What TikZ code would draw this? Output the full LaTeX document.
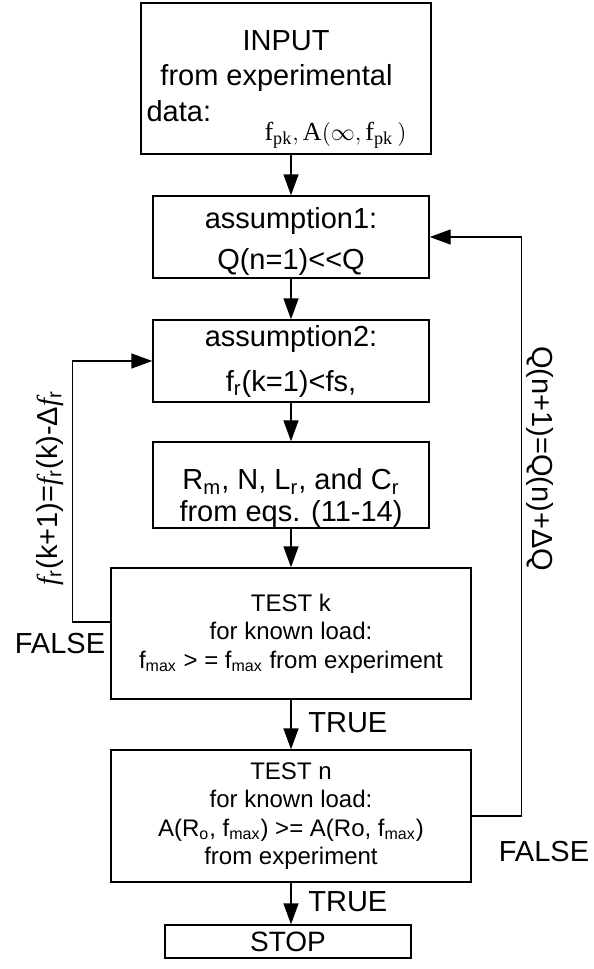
\documentclass[tikz,border=0pt]{standalone}
\usepackage{fontspec}
\setmainfont{Liberation Sans}
\newfontfamily\tms{Liberation Serif}
\setmathrm{Liberation Serif}
\usetikzlibrary{arrows.meta}
\def\ix#1{\textsubscript{#1}}
\def\fr{{\tms\itshape f}\ix{r}}

\begin{document}
\begin{tikzpicture}[x=0.5pt,y=-0.5pt]

    \tikzset{box/.style={draw, line width=0.7pt, inner sep=0pt, align=center,
        minimum width=138pt, minimum height=41pt,
        font=\fontsize{14.5}{17.75}\selectfont},
      test/.style={box, minimum width=180pt, font=\fontsize{12}{14.2}\selectfont},
      lbl/.style={inner sep=0pt, font=\fontsize{14.5}{17.75}\selectfont},
      >={Triangle[length=10.5pt,width=7.5pt]}}
    \tikzstyle{flow}=[->, line width=0.7pt]

    \useasboundingbox (0,0) rectangle (594,969);

    % main column
    \node (input) [box, minimum width=145pt, minimum height=75.5pt] at (286,78.5)
      {\rule{0pt}{21pt}INPUT\\ from experimental\kern9.5pt\\
       data:\hspace{26.75pt}\raisebox{-9.5pt}{\fontsize{13}{13}\selectfont
       $\mathrm{f}_{\mathrm{pk}}\mathrm{,}\,\mathrm{A}\bigl(\infty\mathrm{,}\,\mathrm{f}_{\mathrm{pk}}\,\bigr)$}\kern9.5pt};
    \node (assump1) [box, font=\fontsize{14.5}{20.5}\selectfont] at (291,237)
      {\rule{0pt}{14.5pt}assumption1:\\ Q(n=1)<{}<Q};
    \node (assump2) [box, font=\fontsize{14.5}{22.5}\selectfont] at (291,361)
      {assumption2:\\ f\ix{r}(k=1)<fs,};
    \node (calc) [box, font=\fontsize{14.5}{16}\selectfont] at (291,485)
      {\rule{0pt}{24pt}R\ix{m}, N, L\ix{r}, and C\ix{r}\\ from eqs. (11-14)};
    \node (testk) [test, minimum height=65.5pt] at (291,633.5)
      {TEST k\\ for known load:\\ f\ix{max} > = f\ix{max} from experiment};
    \node (testn) [test, minimum height=66pt] at (291,816)
      {TEST n\\ for known load:\\ A(R\ix{o}, f\ix{max}) >= A(Ro, f\ix{max})\\ from experiment};
    \node (stop) [box, minimum width=123pt, minimum height=16.5pt, text depth=0pt,
      font=\fontsize{14}{16}\selectfont] at (288,941.5) {STOP};

    \draw[flow] (input.south -| assump1.north) -- (assump1.north);
    \draw[flow] (assump1) -- (assump2);
    \draw[flow] (assump2) -- (calc);
    \draw[flow] (calc) -- (testk);
    \draw[flow] (testk) -- (testn);
    \draw[flow] (testn.south) -- (testn.south |- stop.north);

    % feedback loops
    \draw[flow] ([yshift=5.75pt]testk.west) -- ++(-38,0) |- (assump2.west);
    \draw[flow] (testn.east) -- ++(50,0) |- (assump1.east);

    \node (dfr) [lbl, rotate=90, anchor=base] at (57,488)
      {\fr(k+1)=\fr(k)-Δ\fr};
    \node (dq) [lbl, rotate=-90, anchor=base] at (532,458.5) {Q(n+1)=Q(n)+ΔQ};

    \node (falsek) [lbl, anchor=base] at (60,653) {FALSE};
    \node (falsen) [lbl, anchor=base] at (544,861) {FALSE};
    \node (truek) [lbl, anchor=base west] at (308,732) {TRUE};
    \node (truen) [lbl, anchor=base west] at (308,911) {TRUE};

\end{tikzpicture}
\end{document}
